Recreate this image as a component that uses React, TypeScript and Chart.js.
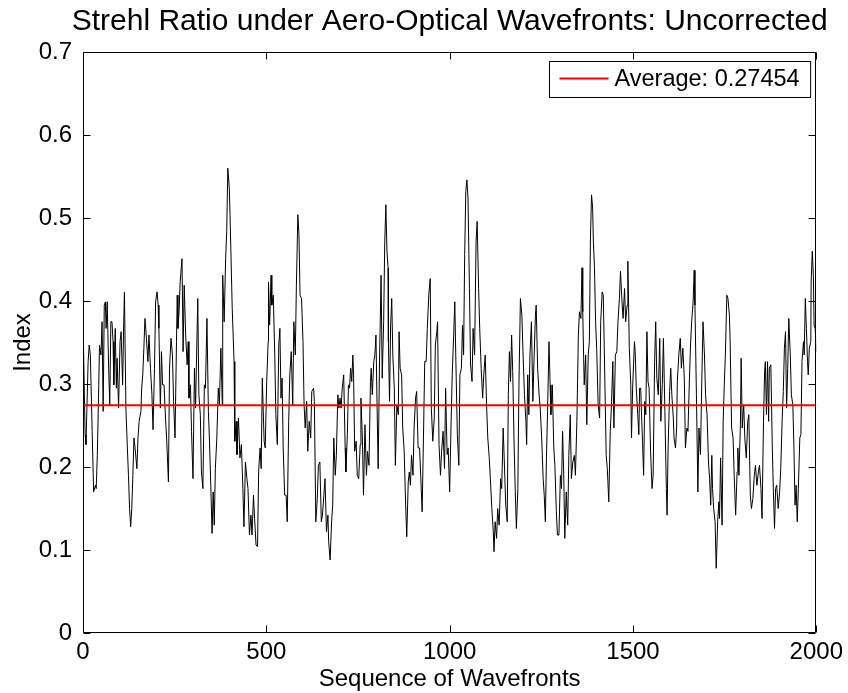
import React, { useEffect, useRef } from 'react';
import { Chart, registerables } from 'chart.js';

Chart.register(...registerables);

const FONT = '"Liberation Sans", Arial, Helvetica, sans-serif';

const TITLE = 'Strehl Ratio under Aero-Optical Wavefronts: Uncorrected';
const X_LABEL = 'Sequence of Wavefronts';
const Y_LABEL = 'Index';
const AVERAGE = 0.27454;
const AVERAGE_LABEL = 'Average: 0.27454';
const X_TICKS = [0, 500, 1000, 1500, 2000];
const Y_TICKS = [0, 0.1, 0.2, 0.3, 0.4, 0.5, 0.6, 0.7];

// wavefront index
const wavefrontSeq = [
  0, 5, 6, 8, 14, 17, 20, 25, 29, 34, 36, 39, 43, 45, 49, 52, 55, 58, 61, 63, 66, 70, 73, 76, 79, 82, 84, 88, 91, 93,
  97, 101, 104, 108, 111, 113, 117, 121, 124, 127, 130, 133, 136, 139, 142, 147, 150, 153, 158, 160, 163, 166, 169, 173,
  177, 180, 184, 188, 191, 195, 198, 202, 205, 207, 211, 214, 217, 221, 225, 228, 233, 236, 240, 244, 247, 251, 255, 257,
  259, 262, 265, 270, 273, 276, 280, 284, 287, 289, 293, 296, 300, 304, 307, 313, 316, 320, 323, 327, 331, 334, 338, 342,
  345, 349, 352, 355, 358, 361, 365, 369, 372, 376, 380, 381, 385, 389, 392, 395, 399, 401, 407, 412, 414, 418, 420, 424,
  428, 432, 436, 439, 443, 447, 450, 454, 458, 461, 465, 468, 472, 476, 479, 483, 486, 489, 494, 497, 501,
  505, 506, 509, 513, 515, 519, 523, 526, 530, 534, 537, 540, 543, 546, 550, 554, 557, 561, 564, 568, 572, 575, 579, 582,
  586, 589, 592, 596, 600, 603, 606, 610, 613, 617, 621, 624, 629, 631, 635, 639, 642, 646, 650, 653, 657, 660, 664, 668,
  670, 674, 678, 681, 684, 688, 691, 695, 698, 701, 704, 707, 711, 715, 717, 721, 724, 727, 730, 733, 736, 738, 741, 745,
  748, 752, 756, 758,
  762, 765, 769, 773, 776, 780, 784, 786, 789, 793, 796, 799, 802, 805, 809, 813, 816, 820, 823, 826, 829, 832, 833, 836,
  839, 842, 845, 849, 852, 856, 860, 862, 865, 869, 872, 876, 880, 883, 887, 890, 893, 896, 900, 903, 907, 910, 914, 918,
  921, 925, 929, 932, 936, 939, 943, 947, 950, 954, 958, 961, 965, 967, 971, 975, 978, 982, 986, 989, 993, 996, 1000, 1004,
  1007,
  1011, 1014, 1017, 1021, 1025, 1028, 1032, 1035, 1038, 1041, 1044, 1047, 1050, 1054, 1057, 1061, 1064, 1068, 1072, 1075,
  1079, 1082, 1086, 1090, 1093, 1097, 1101, 1104, 1108, 1111, 1115, 1119, 1121, 1124, 1128, 1131, 1135, 1139, 1142, 1146,
  1150, 1153, 1157, 1160, 1163, 1166, 1169, 1172, 1176, 1179, 1182, 1186, 1189, 1193, 1197, 1200, 1204, 1208, 1210, 1213,
  1216, 1219, 1223, 1227, 1230, 1234, 1236, 1240, 1244, 1247, 1251, 1255,
  1258, 1261, 1264, 1267, 1271, 1274, 1276, 1280, 1284, 1287, 1291, 1294, 1298, 1302, 1305, 1308, 1311, 1314, 1318, 1322,
  1325, 1329, 1332, 1336, 1340, 1343, 1347, 1351, 1354, 1358, 1361, 1363, 1367, 1371, 1374, 1378, 1381, 1384, 1387, 1390,
  1392, 1395, 1398, 1401, 1405, 1409, 1412, 1416, 1419, 1423, 1427, 1430, 1434, 1438, 1441, 1445, 1448, 1452, 1456, 1459,
  1463, 1466, 1469, 1473, 1477, 1480, 1484, 1486, 1490, 1494, 1496, 1499,
  1504, 1506, 1509, 1513, 1516, 1518, 1521, 1524, 1526, 1529, 1532, 1535, 1538, 1541, 1544, 1548, 1552, 1555, 1559, 1562,
  1565, 1569, 1573, 1576, 1580, 1583, 1587, 1591, 1593, 1596, 1600, 1603, 1606, 1610, 1612, 1616, 1619, 1621, 1625, 1629,
  1632, 1636, 1640, 1643, 1647, 1650, 1654, 1657, 1660, 1664, 1667, 1669, 1673, 1677, 1680, 1684, 1688, 1691, 1695, 1698,
  1702, 1706, 1709, 1712, 1715, 1717, 1720, 1724, 1727, 1731, 1734, 1736, 1739, 1743, 1746, 1749,
  1752, 1756, 1759, 1763, 1765, 1769, 1773, 1776, 1780, 1784, 1786, 1789, 1793, 1795, 1798, 1802, 1805, 1809, 1813, 1816,
  1820, 1823, 1827, 1831, 1834, 1838, 1842, 1845, 1849, 1852, 1856, 1859, 1861, 1864, 1867, 1870, 1872, 1876, 1880, 1883,
  1886, 1889, 1892, 1896, 1900, 1903, 1907, 1910, 1913, 1916, 1919, 1922, 1925, 1929, 1932, 1936, 1939, 1942, 1945, 1948,
  1951, 1955, 1958, 1961, 1965, 1967, 1970, 1973, 1976, 1978, 1981, 1985, 1986, 1989, 1992, 1994, 1997, 2000,
];

// Strehl ratio values
const strehlRatio = [
  0.38, 0.255, 0.239, 0.227, 0.327, 0.347, 0.335, 0.243, 0.17, 0.178, 0.174, 0.214, 0.299, 0.347, 0.335, 0.375, 0.267,
  0.395, 0.399, 0.367, 0.399, 0.319, 0.275, 0.375, 0.375, 0.351, 0.299, 0.367, 0.295, 0.331,
  0.271, 0.351, 0.363, 0.299, 0.371, 0.411, 0.271, 0.223, 0.19, 0.15, 0.128, 0.15, 0.19, 0.235, 0.223, 0.198, 0.235, 0.255,
  0.267, 0.295, 0.311, 0.343, 0.379, 0.355,
  0.327, 0.359, 0.319, 0.287, 0.245, 0.319, 0.399, 0.411, 0.395, 0.367, 0.271, 0.339, 0.299, 0.299, 0.259, 0.235, 0.182,
  0.319, 0.355, 0.335, 0.279, 0.235, 0.351, 0.407,
  0.367, 0.387, 0.423, 0.451, 0.339, 0.419, 0.359, 0.323, 0.351, 0.283, 0.299, 0.243, 0.186, 0.319, 0.271, 0.403, 0.287,
  0.263, 0.194, 0.174, 0.299, 0.295, 0.379, 0.267,
  0.231, 0.17, 0.12, 0.17, 0.13, 0.198, 0.235, 0.295, 0.275, 0.343, 0.275, 0.431, 0.375, 0.451, 0.484, 0.56, 0.536, 0.504,
  0.391, 0.327, 0.231, 0.255, 0.215, 0.259,
  0.211, 0.227, 0.174, 0.128, 0.206, 0.186, 0.174, 0.118, 0.142, 0.118, 0.166, 0.138, 0.106, 0.104, 0.194, 0.223, 0.198,
  0.307, 0.231, 0.223, 0.303,
  0.351, 0.423, 0.371, 0.431, 0.395, 0.407, 0.335, 0.263, 0.227, 0.347, 0.367, 0.283, 0.307, 0.223, 0.166, 0.166, 0.134,
  0.255, 0.311, 0.339, 0.275, 0.375, 0.335, 0.419,
  0.504, 0.48, 0.407, 0.403, 0.351, 0.275, 0.247, 0.279, 0.219, 0.255, 0.235, 0.291, 0.295, 0.279, 0.134, 0.162, 0.202,
  0.206, 0.134, 0.142, 0.166, 0.186, 0.122, 0.142,
  0.11, 0.088, 0.134, 0.154, 0.235, 0.19, 0.214, 0.287, 0.271, 0.283, 0.271, 0.295, 0.311, 0.223, 0.194, 0.239, 0.299,
  0.295, 0.319, 0.303, 0.335, 0.311, 0.219, 0.231,
  0.19, 0.186, 0.227, 0.283,
  0.235, 0.166, 0.251, 0.19, 0.219, 0.202, 0.303, 0.319, 0.287, 0.327, 0.335, 0.359, 0.275, 0.198, 0.335, 0.431, 0.307,
  0.375, 0.471, 0.516, 0.46, 0.44, 0.351, 0.279,
  0.371, 0.403, 0.335, 0.295, 0.202, 0.275, 0.263, 0.363, 0.319, 0.311, 0.247, 0.219, 0.154, 0.116, 0.182, 0.194, 0.178,
  0.214, 0.19, 0.247, 0.283, 0.291, 0.223, 0.223,
  0.19, 0.146, 0.247, 0.327, 0.327, 0.367, 0.407, 0.427, 0.271, 0.231, 0.259, 0.347, 0.363, 0.375, 0.227, 0.19, 0.219,
  0.243, 0.198, 0.295, 0.215, 0.223, 0.17, 0.255,
  0.311,
  0.359, 0.399, 0.327, 0.239, 0.202, 0.311, 0.319, 0.371, 0.335, 0.456, 0.532, 0.546, 0.524, 0.415, 0.323, 0.303, 0.367,
  0.335, 0.471, 0.496,
  0.415, 0.367, 0.319, 0.283, 0.311, 0.335, 0.271, 0.235, 0.211, 0.186, 0.15, 0.122, 0.098, 0.134, 0.114, 0.15, 0.13,
  0.186, 0.174, 0.247,
  0.194, 0.154, 0.134, 0.287, 0.339, 0.303, 0.359, 0.315, 0.223, 0.17, 0.126, 0.174, 0.299, 0.403, 0.383, 0.339, 0.287,
  0.255, 0.227, 0.311,
  0.263, 0.335, 0.375, 0.279, 0.327, 0.383, 0.395, 0.319, 0.287, 0.271, 0.235, 0.186,
  0.166, 0.134, 0.211, 0.267, 0.351, 0.299, 0.263, 0.299, 0.223, 0.202, 0.146, 0.118, 0.118, 0.19, 0.174, 0.243, 0.194,
  0.114, 0.17, 0.13,
  0.214, 0.263, 0.186, 0.206, 0.214, 0.19, 0.255, 0.359, 0.387, 0.379, 0.44, 0.387, 0.299, 0.335, 0.251, 0.335, 0.351,
  0.476, 0.528, 0.512,
  0.471, 0.44, 0.375, 0.343, 0.275, 0.259, 0.375, 0.411, 0.407, 0.311, 0.214, 0.198, 0.158, 0.243, 0.271, 0.327, 0.247,
  0.335, 0.339, 0.375,
  0.403, 0.436, 0.407, 0.379, 0.415, 0.375, 0.395, 0.448, 0.343, 0.299, 0.235, 0.295,
  0.351, 0.339, 0.295, 0.263, 0.239, 0.295, 0.295, 0.255, 0.231, 0.19, 0.279, 0.263, 0.363, 0.303, 0.295, 0.219, 0.174,
  0.19, 0.327, 0.375,
  0.307, 0.287, 0.355, 0.255, 0.299, 0.355, 0.267, 0.174, 0.142, 0.227, 0.291, 0.319, 0.287, 0.259, 0.235, 0.223, 0.247,
  0.303, 0.335, 0.355,
  0.319, 0.343, 0.307, 0.223, 0.247, 0.243, 0.307, 0.347, 0.375, 0.399, 0.437, 0.395, 0.287, 0.17, 0.247, 0.215, 0.311,
  0.375, 0.335, 0.287,
  0.263, 0.206, 0.186, 0.154, 0.214, 0.174, 0.15, 0.134, 0.078, 0.134, 0.158, 0.138, 0.211, 0.13, 0.255, 0.299,
  0.335, 0.407, 0.403, 0.383, 0.351, 0.247, 0.235, 0.19, 0.142, 0.194, 0.223, 0.19, 0.251, 0.331, 0.247, 0.275, 0.235,
  0.211, 0.255, 0.263,
  0.166, 0.15, 0.162, 0.19, 0.202, 0.178, 0.194, 0.202, 0.174, 0.138, 0.255, 0.315, 0.327, 0.263, 0.327, 0.255, 0.319,
  0.323, 0.223, 0.17,
  0.126, 0.174, 0.178, 0.15, 0.17, 0.198, 0.259, 0.291, 0.343, 0.363, 0.271, 0.319, 0.379, 0.335, 0.287, 0.275, 0.223,
  0.154, 0.178, 0.134,
  0.174, 0.235, 0.239, 0.327, 0.351, 0.335, 0.403, 0.367, 0.327, 0.311, 0.343, 0.351, 0.423, 0.46, 0.431, 0.371, 0.367,
  0.339,
];

const AXIS_FONT_SIZE = 24;
const LEGEND_FONT_SIZE = 23.5;
const TITLE_FONT_SIZE = 30;

const matlabFrame = {
  id: 'matlabFrame',
  afterDatasetsDraw(chart: any) {
    const { ctx, chartArea: a, scales } = chart;
    ctx.save();
    ctx.strokeStyle = '#000';
    ctx.lineWidth = 1;
    const L = 7;
    const left = Math.round(a.left) + 0.5;
    const right = Math.round(a.right) - 0.5;
    const top = Math.round(a.top) + 0.5;
    const bottom = Math.round(a.bottom) - 0.5;
    ctx.beginPath();
    ctx.rect(left, top, right - left, bottom - top);
    for (const v of X_TICKS) {
      const px = Math.round(scales.x.getPixelForValue(v)) + 0.5;
      ctx.moveTo(px, bottom);
      ctx.lineTo(px, bottom - L);
      ctx.moveTo(px, top);
      ctx.lineTo(px, top + L);
    }
    for (const v of Y_TICKS) {
      const py = Math.round(scales.y.getPixelForValue(v)) + 0.5;
      ctx.moveTo(left, py);
      ctx.lineTo(left + L, py);
      ctx.moveTo(right, py);
      ctx.lineTo(right - L, py);
    }
    ctx.stroke();

    // title, centred over the axes
    ctx.fillStyle = '#000';
    ctx.font = `${TITLE_FONT_SIZE}px ${FONT}`;
    ctx.textAlign = 'center';
    ctx.textBaseline = 'middle';
    ctx.fillText(TITLE, (a.left + a.right) / 2, 22);

    // legend box (top right, inside the axes)
    const ds = chart.data.datasets[0];
    ctx.font = `${LEGEND_FONT_SIZE}px ${FONT}`;
    const tw = ctx.measureText(ds.label).width;
    const boxW = 10 + 49 + 6 + tw + 11;
    const boxH = 36;
    const bx = Math.round(a.right - 6 - boxW) + 0.5;
    const by = Math.round(a.top + 9) + 0.5;
    ctx.fillStyle = '#fff';
    ctx.fillRect(bx, by, boxW, boxH);
    ctx.strokeStyle = '#000';
    ctx.strokeRect(bx, by, boxW, boxH);
    ctx.strokeStyle = ds.borderColor;
    ctx.lineWidth = ds.borderWidth;
    ctx.beginPath();
    ctx.moveTo(bx + 10, by + 17);
    ctx.lineTo(bx + 59, by + 17);
    ctx.stroke();
    ctx.fillStyle = '#000';
    ctx.textBaseline = 'middle';
    ctx.textAlign = 'left';
    ctx.fillText(ds.label, bx + 65, by + 18);
    ctx.restore();
  },
};

export default function App() {
  const canvasRef = useRef<HTMLCanvasElement | null>(null);

  useEffect(() => {
    const canvas = canvasRef.current;
    if (!canvas) return;
    const series = wavefrontSeq.map((x, i) => ({ x, y: strehlRatio[i] }));
    const avg = [
      { x: X_TICKS[0], y: AVERAGE },
      { x: X_TICKS[X_TICKS.length - 1], y: AVERAGE },
    ];
    const tickFont = { family: FONT, size: AXIS_FONT_SIZE };
    const chart = new Chart(canvas, {
      type: 'line',
      data: {
        datasets: [
          {
            label: AVERAGE_LABEL,
            data: avg,
            borderColor: '#ff0000',
            borderWidth: 2,
            pointRadius: 0,
            fill: false,
          },
          {
            label: 'Strehl ratio',
            data: series,
            borderColor: '#000000',
            borderWidth: 1,
            pointRadius: 0,
            tension: 0,
            fill: false,
          },
        ],
      },
      options: {
        responsive: false,
        animation: false,
        devicePixelRatio: 1,
        parsing: false,
        normalized: true,
        layout: { padding: { left: 0, right: 29, top: 52, bottom: 0 } },
        plugins: {
          legend: { display: false },
          tooltip: { enabled: false },
          title: { display: false },
        },
        scales: {
          x: {
            type: 'linear',
            min: X_TICKS[0],
            max: X_TICKS[X_TICKS.length - 1],
            afterBuildTicks: (s: any) => {
              s.ticks = X_TICKS.map((value) => ({ value }));
            },
            ticks: {
              color: '#000',
              font: tickFont,
              padding: 5,
              maxRotation: 0,
              autoSkip: false,
              callback: (v: any) => String(v),
            },
            grid: { display: false, drawTicks: false },
            border: { display: false },
            title: {
              display: true,
              text: X_LABEL,
              color: '#000',
              font: tickFont,
              padding: { top: 0, bottom: -1 },
            },
            afterFit: (s: any) => {
              s.height = 60;
            },
          },
          y: {
            type: 'linear',
            min: Y_TICKS[0],
            max: Y_TICKS[Y_TICKS.length - 1],
            afterBuildTicks: (s: any) => {
              s.ticks = Y_TICKS.map((value) => ({ value }));
            },
            ticks: {
              color: '#000',
              font: tickFont,
              padding: 11,
              autoSkip: false,
              callback: (v: any) => String(Math.round(v * 10) / 10),
            },
            grid: { display: false, drawTicks: false },
            border: { display: false },
            title: {
              display: true,
              text: Y_LABEL,
              color: '#000',
              font: tickFont,
              padding: { top: 8.6, bottom: 0 },
            },
            afterFit: (s: any) => {
              s.width = 83;
            },
          },
        },
      },
      plugins: [matlabFrame],
    } as any);
    return () => chart.destroy();
  }, []);

  return (
    <div style={{ position: 'fixed', left: 0, top: 0, width: 848, height: 693, background: '#fff' }}>
      <canvas ref={canvasRef} width={848} height={693} style={{ display: 'block', width: 848, height: 693 }} />
    </div>
  );
}
